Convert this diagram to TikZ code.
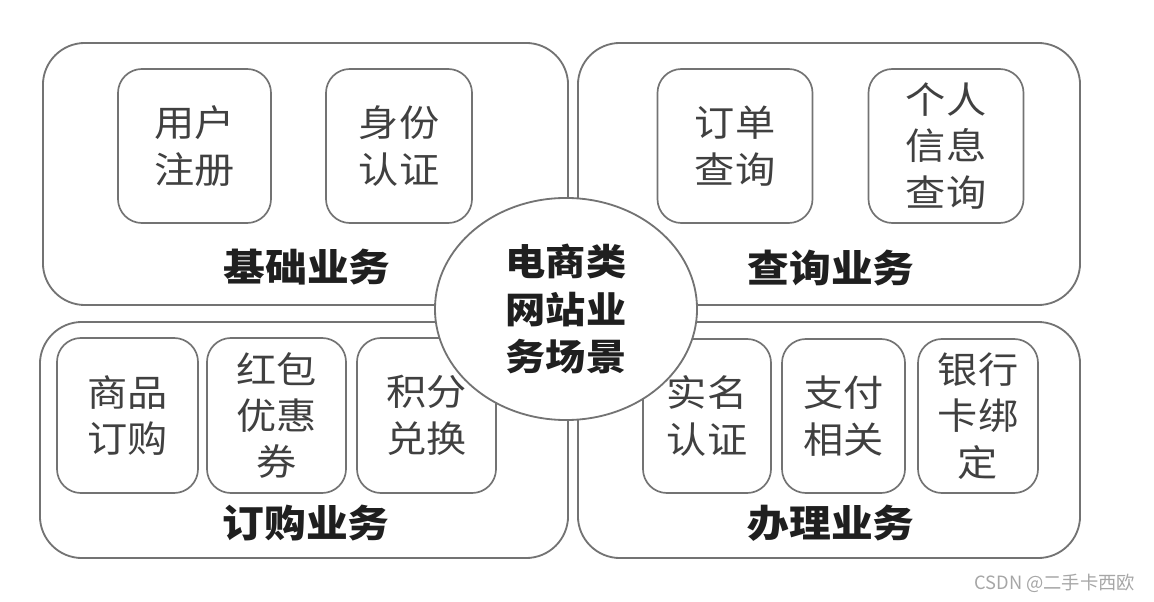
\documentclass[tikz,border=0pt]{standalone}
\usepackage{fontspec}
\usepackage{tikz}
\usetikzlibrary{shapes.geometric}
\newfontfamily\cjk[FakeStretch=1.1]{Noto Sans CJK SC}
\newfontfamily\cjkplain{Noto Sans CJK SC}
\definecolor{edge}{gray}{0.45}
\definecolor{ink}{gray}{0.12}
\tikzset{
  zone/.style={draw=edge, line width=1.3pt, rounded corners=1.05cm, inner sep=0pt},
  item/.style={draw=edge, line width=1.2pt, rounded corners=0.6cm, minimum height=3.85cm, align=center, inner sep=0pt, text=ink!85, font=\cjk\fontsize{26pt}{33pt}\selectfont},
  title/.style={text=ink, font=\cjk\bfseries\fontsize{27pt}{33pt}\selectfont},
  hub/.style={ellipse, draw=edge, line width=1.3pt, fill=white, minimum width=6.55cm, minimum height=5.55cm, inner sep=0pt, align=center, text=ink, font=\cjk\bfseries\fontsize{26pt}{34pt}\selectfont},
  wmark/.style={text=gray!70, font=\cjkplain\fontsize{13pt}{15pt}\selectfont}}

\begin{document}
\begin{tikzpicture}[x=0.025cm, y=-0.025cm]
  \useasboundingbox (0,0) rectangle (1154,602);
  % four business areas
  \node[zone, minimum width=13.125cm, minimum height=6.55cm] (jc) at (305.5,174) {};
  \node[zone, minimum width=12.55cm, minimum height=6.55cm] (cx) at (829,174) {};
  \node[zone, minimum width=13.2cm, minimum height=5.9cm] (dg) at (304,440) {};
  \node[zone, minimum width=12.55cm, minimum height=5.9cm] (bl) at (829,440) {};
  % items of each area
  \node[item, minimum width=3.825cm] (yh) at (194.5,146) {用户\\注册};
  \node[item, minimum width=3.65cm] (sf) at (399,146) {身份\\认证};
  \node[item, minimum width=3.875cm] (dd) at (735,146) {订单\\查询};
  \node[item, minimum width=3.875cm] (gr) at (946,146) {个人\\信息\\查询};
  \node[item, minimum width=3.525cm, minimum height=3.875cm] (sp) at (127.5,415.5) {商品\\订购};
  \node[item, minimum width=3.475cm, minimum height=3.875cm] (hb) at (276.5,415.5) {红包\\优惠\\券};
  \node[item, minimum width=3.475cm, minimum height=3.875cm] (jf) at (426.5,415.5) {积分\\兑换};
  \node[item, minimum width=3.2cm] (sm) at (707,416) {实名\\认证};
  \node[item, minimum width=3.075cm] (zf) at (843.5,416) {支付\\相关};
  \node[item, minimum width=3.0cm] (yk) at (978,416) {银行\\卡绑\\定};
  % area titles
  \node[title] (tjc) at (307,267) {基础业务};
  \node[title] (tcx) at (831,268) {查询业务};
  \node[title] (tdg) at (306,523) {订购业务};
  \node[title] (tbl) at (831,523) {办理业务};
  % centre
  \node[hub] (c) at (566,309) {电商类\\网站业\\务场景};
  \node[wmark, anchor=east] (wm) at (1140,583) {CSDN @二手卡西欧};
\end{tikzpicture}
\end{document}
